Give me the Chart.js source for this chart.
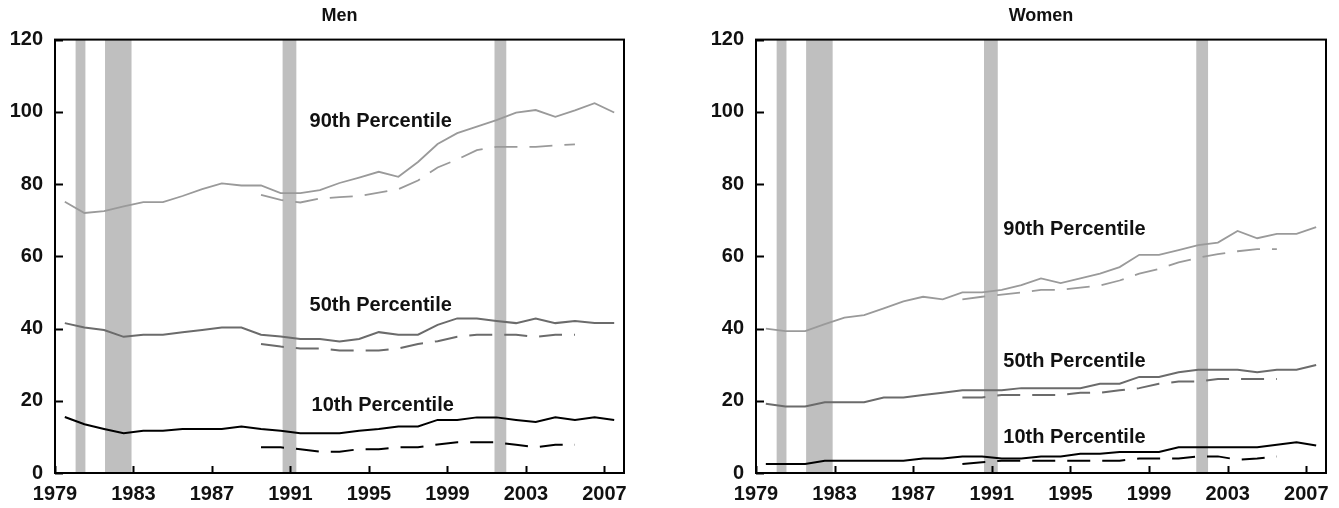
<!DOCTYPE html>
<html lang="en">
<head>
  <meta charset="UTF-8" />
  <title>Earnings percentiles, men and women</title>
  <script src="https://cdn.jsdelivr.net/npm/chart.js"></script>
  <style>
    body {
      margin: 0;
      background: #fff;
      width: 1339px;
      height: 508px;
      overflow: hidden;
      position: relative;
    }
    #menChart { position: absolute; left: 0; top: 0; }
    #womenChart { position: absolute; left: 700px; top: 0; }
  </style>
</head>
<body>

  <canvas id="menChart" width="640" height="508"></canvas>
  <canvas id="womenChart" width="639" height="508"></canvas>

  <script>
    // annual values, 1979-2007
    const years = [1979, 1980, 1981, 1982, 1983, 1984, 1985, 1986, 1987, 1988,
                   1989, 1990, 1991, 1992, 1993, 1994, 1995, 1996, 1997, 1998,
                   1999, 2000, 2001, 2002, 2003, 2004, 2005, 2006, 2007];
    // second (dashed) series only covers 1989-2005
    const yearsAlt = [1989, 1990, 1991, 1992, 1993, 1994, 1995, 1996, 1997,
                      1998, 1999, 2000, 2001, 2002, 2003, 2004, 2005];

    const menP90 = [75.1, 72.0, 72.5, 73.8, 75.0, 75.0, 76.7, 78.6, 80.2, 79.6,
                    79.6, 77.5, 77.5, 78.3, 80.3, 81.8, 83.4, 82.0, 86.1, 91.1,
                    94.1, 95.9, 97.7, 99.8, 100.5, 98.6, 100.4, 102.4, 99.8];
    const menP50 = [41.5, 40.3, 39.6, 37.7, 38.3, 38.3, 39.0, 39.6, 40.3, 40.3,
                    38.3, 37.8, 37.1, 37.1, 36.4, 37.1, 39.0, 38.3, 38.3, 41.0,
                    42.8, 42.8, 42.1, 41.5, 42.8, 41.5, 42.1, 41.5, 41.5];
    const menP10 = [15.5, 13.5, 12.2, 11.0, 11.7, 11.7, 12.2, 12.2, 12.2, 12.9,
                    12.2, 11.7, 11.0, 11.0, 11.0, 11.7, 12.2, 12.9, 12.9, 14.7,
                    14.7, 15.4, 15.4, 14.7, 14.1, 15.4, 14.7, 15.4, 14.7];
    const menP90Alt = [77.0, 75.6, 74.9, 76.0, 76.4, 76.7, 77.6, 78.6, 81.0,
                       84.6, 86.8, 89.4, 90.3, 90.3, 90.3, 90.7, 91.0];
    const menP50Alt = [35.7, 35.0, 34.5, 34.5, 33.9, 33.9, 33.9, 34.5, 35.7,
                       36.5, 37.7, 38.3, 38.3, 38.3, 37.7, 38.3, 38.3];
    const menP10Alt = [7.1, 7.1, 6.6, 5.9, 5.9, 6.6, 6.6, 7.1, 7.1,
                       7.9, 8.5, 8.5, 8.5, 7.8, 7.1, 7.8, 7.8];

    const womenP90 = [40.0, 39.3, 39.3, 41.2, 43.0, 43.7, 45.6, 47.5, 48.8, 48.1,
                      50.0, 50.0, 50.7, 52.0, 53.9, 52.6, 53.9, 55.2, 57.0, 60.4,
                      60.4, 61.7, 63.1, 63.8, 67.0, 65.0, 66.2, 66.2, 68.1];
    const womenP50 = [19.2, 18.4, 18.4, 19.6, 19.6, 19.6, 20.9, 20.9, 21.6, 22.2,
                      22.9, 22.9, 22.9, 23.5, 23.5, 23.5, 23.5, 24.7, 24.7, 26.6,
                      26.6, 27.9, 28.6, 28.6, 28.6, 27.9, 28.6, 28.6, 29.9];
    const womenP10 = [2.5, 2.5, 2.5, 3.4, 3.4, 3.4, 3.4, 3.4, 4.0, 4.0,
                      4.6, 4.6, 4.0, 4.0, 4.6, 4.6, 5.3, 5.3, 5.8, 5.8,
                      5.8, 7.1, 7.1, 7.1, 7.1, 7.1, 7.8, 8.5, 7.6];
    const womenP90Alt = [48.1, 48.8, 49.4, 50.0, 50.7, 50.7, 51.3, 51.9, 53.3,
                         55.2, 56.5, 58.3, 59.6, 60.6, 61.4, 62.0, 62.0];
    const womenP50Alt = [20.9, 20.9, 21.6, 21.6, 21.6, 21.6, 22.2, 22.2, 22.9,
                         23.5, 24.7, 25.3, 25.3, 26.0, 26.0, 26.0, 26.0];
    const womenP10Alt = [2.5, 3.0, 3.4, 3.4, 3.4, 3.4, 3.4, 3.4, 3.4,
                         4.0, 4.0, 4.0, 4.6, 4.6, 3.7, 4.0, 4.6];

    // recession periods (start, end) in fractional years
    const recessionStart = [1980.05, 1981.55, 1990.6, 2001.4];
    const recessionEnd   = [1980.55, 1982.9, 1991.3, 2002.0];

    const xTickLabels = [1979, 1983, 1987, 1991, 1995, 1999, 2003, 2007];
    const yTickLabels = [0, 20, 40, 60, 80, 100, 120];
    const seriesNames = ['90th Percentile', '50th Percentile', '10th Percentile'];

    const FONT = "'Liberation Sans', Arial, sans-serif";
    const colors = ['#9a9a9a', '#6b6b6b', '#000000'];

    function toPoints(xs, ys) {
      // values are annual averages, plotted at mid-year
      return ys.map((v, i) => ({ x: xs[i] + 0.5, y: v }));
    }

    const frame = {
      id: 'frame',
      beforeDatasetsDraw(chart) {
        const { ctx, chartArea: a, scales: { x } } = chart;
        ctx.save();
        ctx.fillStyle = '#bfbfbf';
        recessionStart.forEach((s, i) => {
          const x0 = x.getPixelForValue(s);
          const x1 = x.getPixelForValue(recessionEnd[i]);
          ctx.fillRect(x0, a.top, x1 - x0, a.bottom - a.top);
        });
        ctx.restore();
      },
      afterDatasetsDraw(chart, args, opts) {
        const { ctx, chartArea: a, scales: { x, y } } = chart;
        ctx.save();
        ctx.strokeStyle = '#000';
        ctx.lineWidth = 2;
        ctx.strokeRect(a.left, a.top, a.right - a.left, a.bottom - a.top);
        // inward tick marks
        ctx.beginPath();
        xTickLabels.forEach(v => {
          const px = Math.round(x.getPixelForValue(v)) + 0.5;
          ctx.moveTo(px, a.bottom);
          ctx.lineTo(px, a.bottom - 7);
        });
        yTickLabels.forEach(v => {
          const py = Math.round(y.getPixelForValue(v)) + 0.5;
          ctx.moveTo(a.left, py);
          ctx.lineTo(a.left + 8, py);
        });
        ctx.stroke();

        ctx.fillStyle = '#111';
        ctx.font = 'bold 20px ' + FONT;
        ctx.textAlign = 'center';
        ctx.textBaseline = 'middle';
        opts.labels.forEach((l, i) => {
          ctx.fillText(seriesNames[i], x.getPixelForValue(l[0]), y.getPixelForValue(l[1]));
        });
        ctx.restore();
      }
    };

    function makeChart(id, title, solid, dashed, labelAt, yWidth, padRight) {
      const datasets = [];
      solid.forEach((vals, i) => {
        datasets.push({
          data: toPoints(years, vals),
          borderColor: colors[i],
          borderWidth: i === 0 ? 1.8 : 2,
          pointRadius: 0,
          tension: 0
        });
      });
      dashed.forEach((vals, i) => {
        datasets.push({
          data: toPoints(yearsAlt, vals),
          borderColor: colors[i],
          borderWidth: i === 0 ? 1.8 : 2,
          borderDash: [23, 12],
          pointRadius: 0,
          tension: 0
        });
      });

      return new Chart(document.getElementById(id), {
        type: 'line',
        data: { datasets },
        plugins: [frame],
        options: {
          responsive: false,
          animation: false,
          layout: { padding: { top: 0, right: padRight, bottom: 0, left: 0 } },
          plugins: {
            legend: { display: false },
            tooltip: { enabled: false },
            title: {
              display: true,
              text: title,
              fullSize: false,
              color: '#111',
              font: { family: FONT, size: 18, weight: 'bold' },
              padding: { top: 5, bottom: 13 }
            },
            frame: { labels: labelAt }
          },
          scales: {
            x: {
              type: 'linear',
              min: 1979,
              max: 2008,
              afterBuildTicks: s => { s.ticks = xTickLabels.map(v => ({ value: v })); },
              afterFit: s => { s.height = 35; },
              grid: { display: false, drawTicks: false },
              border: { display: false },
              ticks: {
                autoSkip: false,
                maxRotation: 0,
                padding: 9,
                color: '#111',
                font: { family: FONT, size: 20, weight: 'bold' },
                callback: v => String(v)
              }
            },
            y: {
              min: 0,
              max: 120,
              afterBuildTicks: s => { s.ticks = yTickLabels.map(v => ({ value: v })); },
              afterFit: s => { s.width = yWidth; },
              grid: { display: false, drawTicks: false },
              border: { display: false },
              ticks: {
                padding: 12,
                color: '#111',
                font: { family: FONT, size: 20, weight: 'bold' },
                callback: v => String(v)
              }
            }
          }
        }
      });
    }

    makeChart('menChart', 'Men',
      [menP90, menP50, menP10], [menP90Alt, menP50Alt, menP10Alt],
      [[1995.6, 97.3], [1995.6, 46.3], [1995.7, 18.6]], 55, 16);

    makeChart('womenChart', 'Women',
      [womenP90, womenP50, womenP10], [womenP90Alt, womenP50Alt, womenP10Alt],
      [[1995.2, 67.3], [1995.2, 31.0], [1995.2, 9.7]], 56, 13);
  </script>

</body>
</html>
